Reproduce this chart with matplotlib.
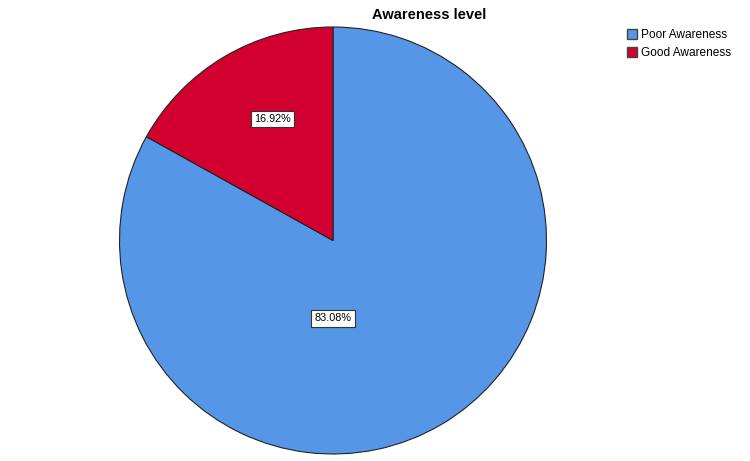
import matplotlib
matplotlib.use("Agg")
import matplotlib.pyplot as plt
from matplotlib.patches import Patch

categories = ["Poor Awareness", "Good Awareness"]
values = [83.08, 16.92]
colors = ["#5596E6", "#D2002F"]
label_texts = ["83.08%", "16.92%"]

plt.rcParams['font.family'] = ['Liberation Sans', 'DejaVu Sans']

fig = plt.figure(figsize=(7.5, 4.61), dpi=100)
ax = fig.add_axes([119/750, 7/461, 428/750, 427/461])
wedges, _ = ax.pie(values, colors=colors, startangle=90, counterclock=False,
                   wedgeprops=dict(edgecolor="#222222", linewidth=0.8))
ax.set_aspect("equal")
ax.set_xlim(-1, 1)
ax.set_ylim(-1, 1)

# label positions (relative to radius)
label_pos = [(0.0, -0.365), (-0.285, 0.57)]
for (x, y), t in zip(label_pos, label_texts):
    ax.text(x, y, t, ha="center", va="center", fontsize=7.8,
            bbox=dict(boxstyle="square,pad=0.3", fc="white", ec="#333333", lw=0.8))

fig.text(429/750, 1 - 15/461, "Awareness level", ha="center", va="center",
         fontsize=10.5, fontweight="bold")

handles = [Patch(facecolor=c, edgecolor="#444444", label=l) for c, l in zip(colors, categories)]
fig.legend(handles=handles, loc="upper left", bbox_to_anchor=(627/750, 1 - 29/461),
           frameon=False, fontsize=8.6, handlelength=0.85, handleheight=0.85,
           handletextpad=0.35, labelspacing=0.5, borderaxespad=0, borderpad=0)

fig.savefig("out.png", dpi=100)
